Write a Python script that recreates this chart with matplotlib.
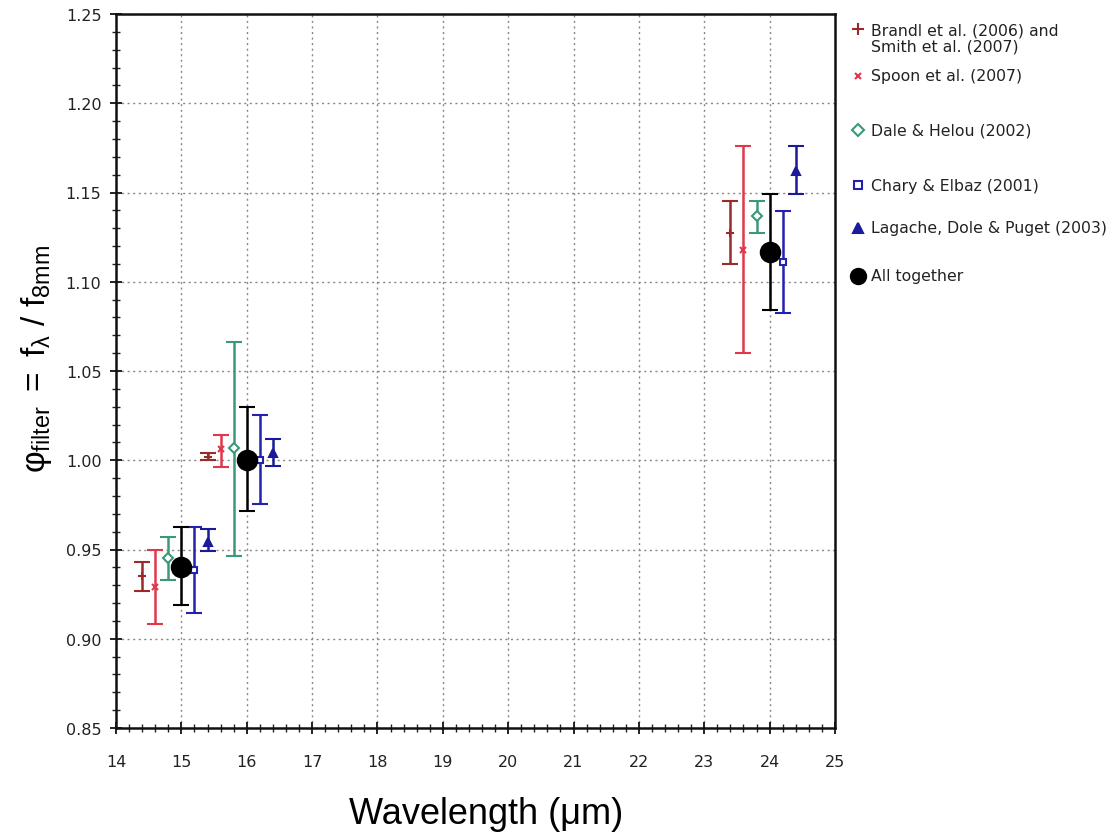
import matplotlib
matplotlib.use("Agg")
import matplotlib.pyplot as plt
from matplotlib.lines import Line2D
from matplotlib.ticker import MultipleLocator, FormatStrFormatter

plt.rcParams['mathtext.fontset'] = 'custom'
plt.rcParams['mathtext.rm'] = 'Liberation Sans'
plt.rcParams['mathtext.it'] = 'Liberation Sans'

labels = ["Brandl et al. (2006) and\nSmith et al. (2007)",
          "Spoon et al. (2007)",
          "Dale & Helou (2002)",
          "Chary & Elbaz (2001)",
          "Lagache, Dole & Puget (2003)",
          "All together"]

# wavelength positions (offset within each filter cluster)
brandl_x = [14.4, 15.4, 23.4]
brandl_y = [0.935, 1.002, 1.1275]
brandl_lo = [0.927, 1.000, 1.110]
brandl_hi = [0.943, 1.004, 1.145]

spoon_x = [14.6, 15.6, 23.6]
spoon_y = [0.929, 1.0064, 1.1177]
spoon_lo = [0.9085, 0.9964, 1.060]
spoon_hi = [0.950, 1.0143, 1.176]

dale_x = [14.8, 15.8, 23.8]
dale_y = [0.945, 1.0068, 1.1367]
dale_lo = [0.933, 0.9466, 1.1275]
dale_hi = [0.957, 1.066, 1.1452]

chary_x = [15.2, 16.2, 24.2]
chary_y = [0.9387, 1.000, 1.1108]
chary_lo = [0.9147, 0.9756, 1.0827]
chary_hi = [0.9626, 1.0256, 1.1394]

lagache_x = [15.4, 16.4, 24.4]
lagache_y = [0.954, 1.004, 1.162]
lagache_lo = [0.9489, 0.997, 1.1493]
lagache_hi = [0.9613, 1.0118, 1.176]

all_x = [15.0, 16.0, 24.0]
all_y = [0.940, 1.000, 1.1168]
all_lo = [0.919, 0.9714, 1.084]
all_hi = [0.9626, 1.030, 1.149]

W, H = 1116, 837
fig = plt.figure(figsize=(W / 100, H / 100), dpi=100)
ax = fig.add_axes([116 / W, 1 - 729 / H, (835 - 116) / W, (729 - 15) / H])

series = [
    (brandl_x, brandl_y, brandl_lo, brandl_hi, '#9a2b2b', '+', 6, 'full'),
    (spoon_x, spoon_y, spoon_lo, spoon_hi, '#e0384a', 'x', 4, 'full'),
    (dale_x, dale_y, dale_lo, dale_hi, '#3a9a78', 'D', 5, 'none'),
    (chary_x, chary_y, chary_lo, chary_hi, '#2222aa', 's', 5, 'none'),
    (lagache_x, lagache_y, lagache_lo, lagache_hi, '#1a1a9a', '^', 6, 'full'),
    (all_x, all_y, all_lo, all_hi, '#000000', 'o', 14, 'full'),
]

for (xs, ys, lo, hi, col, mk, ms, fill) in series:
    yerr = [[y - l for y, l in zip(ys, lo)], [h - y for y, h in zip(ys, hi)]]
    mfc = col if fill == 'full' else 'white'
    ax.errorbar(xs, ys, yerr=yerr, fmt=mk, color=col, ecolor=col, mfc=mfc,
                mec=col, ms=ms, mew=1.5, elinewidth=1.8, capsize=6, capthick=1.8,
                zorder=3)

ax.set_xlim(14, 25)
ax.set_ylim(0.85, 1.25)
ax.xaxis.set_major_locator(MultipleLocator(1))
ax.xaxis.set_minor_locator(MultipleLocator(0.2))
ax.yaxis.set_major_locator(MultipleLocator(0.05))
ax.yaxis.set_minor_locator(MultipleLocator(0.01))
ax.yaxis.set_major_formatter(FormatStrFormatter('%.2f'))
ax.tick_params(which='major', direction='inout', length=9, width=1.4, labelsize=11.5,
               colors='#222222')
ax.tick_params(axis='x', which='major', pad=14)
ax.tick_params(axis='y', which='major', pad=6)
ax.tick_params(which='minor', direction='inout', length=6, width=1.0, colors='#222222')
for s in ax.spines.values():
    s.set_linewidth(1.8)
    s.set_color('#111111')
ax.grid(True, which='major', linestyle=(0, (1.5, 2.5)), color='#888888', linewidth=1.0)
ax.set_axisbelow(True)

ax.set_xlabel('Wavelength (\u03bcm)', fontsize=26, family='Liberation Sans')
ax.set_ylabel(r'$\mathrm{\varphi_{filter}\ =\ f_{\lambda}\ /\ f_{8mm}}$', fontsize=24)
ax.xaxis.set_label_coords((486 - 116) / 719, -(797 - 729) / 714)
ax.yaxis.set_label_coords(-(116 - 54) / 719, (729 - 359) / 714)

# legend drawn beside the axes
leg_y = [30, 77, 131, 186, 229, 277]
leg_text_y = [39, 77, 131, 186, 229, 277]
leg_ms = [8, 5, 6, 6, 7, 11]
for (xs, ys, lo, hi, col, mk, ms, fill), lab, my, ty, lms in zip(series, labels, leg_y, leg_text_y, leg_ms):
    mfc = col if fill == 'full' else 'white'
    fig.add_artist(Line2D([858 / W], [1 - my / H], transform=fig.transFigure,
                          linestyle='none', marker=mk, color=col, mfc=mfc, mec=col,
                          ms=lms, mew=1.5))
    fig.text(871 / W, 1 - ty / H, lab, fontsize=11.3, va='center', ha='left',
             color='#222222', linespacing=1.15)

fig.savefig('out.png', dpi=100)
